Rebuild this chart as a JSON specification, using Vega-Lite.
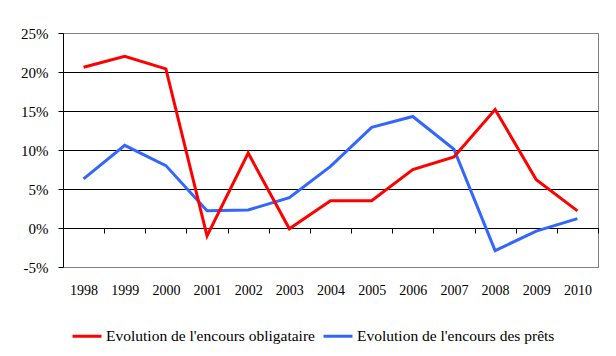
{
  "$schema": "https://vega.github.io/schema/vega-lite/v6.json",
  "autosize": "none",
  "width": 535,
  "height": 234,
  "padding": {"left": 63, "top": 33, "right": 18, "bottom": 89},
  "background": "white",
  "config": {
    "view": {"stroke": "#808080", "strokeWidth": 1},
    "font": "Liberation Serif",
    "axis": {"labelFont": "Liberation Serif", "labelFontSize": 14, "labelColor": "black", "labelOverlap": false},
    "legend": {"labelFont": "Liberation Serif", "labelFontSize": 15.5, "labelColor": "black", "labelLimit": 0}
  },
  "data": {
    "values": [
      {"year": 1998, "series": "Evolution de l'encours obligataire", "value": 0.206},
      {"year": 1999, "series": "Evolution de l'encours obligataire", "value": 0.220},
      {"year": 2000, "series": "Evolution de l'encours obligataire", "value": 0.204},
      {"year": 2001, "series": "Evolution de l'encours obligataire", "value": -0.010},
      {"year": 2002, "series": "Evolution de l'encours obligataire", "value": 0.096},
      {"year": 2003, "series": "Evolution de l'encours obligataire", "value": -0.001},
      {"year": 2004, "series": "Evolution de l'encours obligataire", "value": 0.035},
      {"year": 2005, "series": "Evolution de l'encours obligataire", "value": 0.035},
      {"year": 2006, "series": "Evolution de l'encours obligataire", "value": 0.075},
      {"year": 2007, "series": "Evolution de l'encours obligataire", "value": 0.091},
      {"year": 2008, "series": "Evolution de l'encours obligataire", "value": 0.152},
      {"year": 2009, "series": "Evolution de l'encours obligataire", "value": 0.062},
      {"year": 2010, "series": "Evolution de l'encours obligataire", "value": 0.022},
      {"year": 1998, "series": "Evolution de l'encours des prêts", "value": 0.063},
      {"year": 1999, "series": "Evolution de l'encours des prêts", "value": 0.106},
      {"year": 2000, "series": "Evolution de l'encours des prêts", "value": 0.080},
      {"year": 2001, "series": "Evolution de l'encours des prêts", "value": 0.022},
      {"year": 2002, "series": "Evolution de l'encours des prêts", "value": 0.023},
      {"year": 2003, "series": "Evolution de l'encours des prêts", "value": 0.039},
      {"year": 2004, "series": "Evolution de l'encours des prêts", "value": 0.079},
      {"year": 2005, "series": "Evolution de l'encours des prêts", "value": 0.129},
      {"year": 2006, "series": "Evolution de l'encours des prêts", "value": 0.143},
      {"year": 2007, "series": "Evolution de l'encours des prêts", "value": 0.101},
      {"year": 2008, "series": "Evolution de l'encours des prêts", "value": -0.029},
      {"year": 2009, "series": "Evolution de l'encours des prêts", "value": -0.004},
      {"year": 2010, "series": "Evolution de l'encours des prêts", "value": 0.012}
    ]
  },
  "encoding": {
    "y": {
      "field": "value", "type": "quantitative",
      "scale": {"domain": [-0.05, 0.25], "nice": false, "zero": false},
      "axis": {
        "title": null, "values": [-0.05, 0, 0.05, 0.1, 0.15, 0.2, 0.25],
        "labelExpr": "round(datum.value*100) + '%'",
        "labelFontSize": 15,
        "grid": true,
        "gridColor": {"condition": {"test": "datum.value > 0.24 || datum.value < -0.04", "value": "#808080"}, "value": "black"},
        "gridWidth": 1,
        "domain": true, "ticks": true,
        "domainColor": "black", "tickColor": "black", "tickSize": 5, "labelPadding": 10
      }
    },
    "color": {
      "field": "series", "type": "nominal",
      "scale": {"domain": ["Evolution de l'encours obligataire", "Evolution de l'encours des prêts"], "range": ["#ff0000", "#3366ff"]},
      "legend": {
        "title": null, "orient": "none", "direction": "horizontal", "legendX": 8, "legendY": 287,
        "symbolType": "stroke", "symbolSize": 841, "symbolStrokeWidth": 3, "labelOffset": 3, "columnPadding": 2
      }
    }
  },
  "resolve": {"scale": {"x": "independent"}, "axis": {"x": "independent"}},
  "layer": [
    {
      "transform": [{"filter": "datum.series === \"Evolution de l'encours des prêts\""}],
      "mark": {"type": "line", "strokeWidth": 3},
      "encoding": {
        "x": {
          "field": "year", "type": "quantitative",
          "scale": {"domain": [1997.5, 2010.5], "nice": false, "zero": false},
          "axis": {
            "orient": "bottom",
            "title": null, "values": [1997.5, 1998.5, 1999.5, 2000.5, 2001.5, 2002.5, 2003.5, 2004.5, 2005.5, 2006.5, 2007.5, 2008.5, 2009.5, 2010.5],
            "labels": false, "grid": false, "domain": true, "domainColor": "black", "domainWidth": 1,
            "ticks": true, "tickColor": "black", "tickSize": 5, "offset": -39
          }
        }
      }
    },
    {
      "transform": [{"filter": "datum.series === \"Evolution de l'encours obligataire\""}],
      "mark": {"type": "line", "strokeWidth": 3},
      "encoding": {
        "x": {
          "field": "year", "type": "quantitative",
          "scale": {"domain": [1997.5, 2010.5], "nice": false, "zero": false},
          "axis": {
            "orient": "bottom",
            "title": null, "values": [1998, 1999, 2000, 2001, 2002, 2003, 2004, 2005, 2006, 2007, 2008, 2009, 2010],
            "format": "d", "grid": false, "domain": false, "ticks": false, "labelPadding": 16
          }
        }
      }
    }
  ]
}
